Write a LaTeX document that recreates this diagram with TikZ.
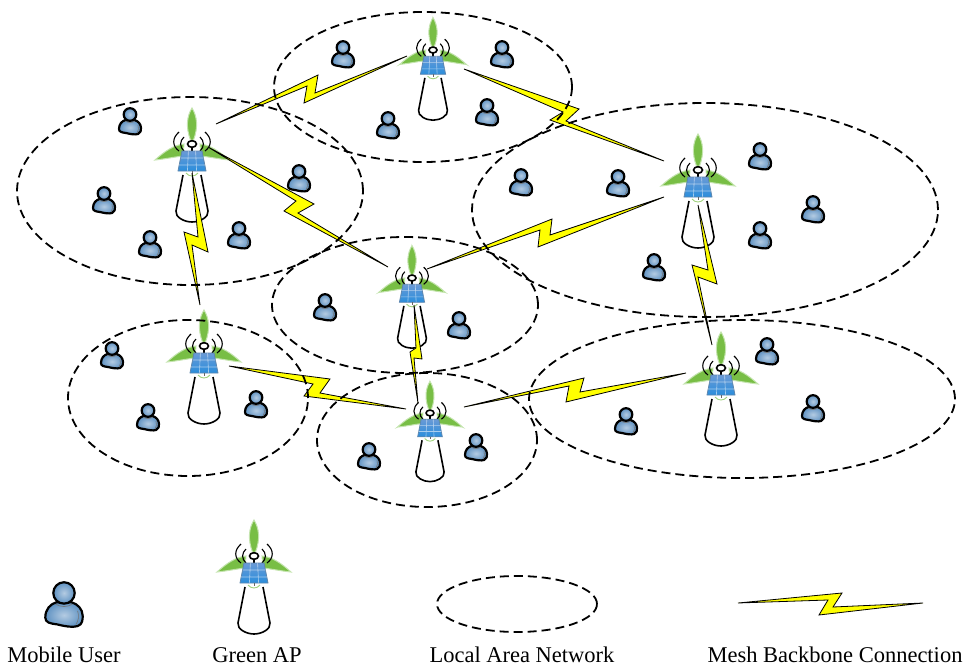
\documentclass[tikz,border=0pt]{standalone}
\usepackage{fontspec}
\setmainfont{Liberation Serif}
\usetikzlibrary{shapes.geometric}
\definecolor{bladegreen}{HTML}{78BE45}
\definecolor{bladeedge}{HTML}{C4E4AE}
\definecolor{panelrim}{HTML}{5E86AE}
\definecolor{paneltop}{HTML}{6A9AD6}
\definecolor{panelbot}{HTML}{2A8EDC}
\definecolor{userin}{HTML}{B4CBE2}
\definecolor{userout}{HTML}{5F92C2}
\definecolor{boltyellow}{HTML}{FFFF00}
\tikzset{
  lan/.style={ellipse,draw=black,dashed,dash pattern=on 9pt off 5pt,line width=1.8pt,inner sep=0pt},
  blade/.style={fill=bladegreen,draw=bladeedge,line width=1pt},
  wave/.style={draw=black,line width=1.1pt},
  boltpoly/.style={fill=boltyellow,draw=black,line width=.8pt,line join=miter},
  legendtext/.style={font=\fontsize{22.5}{24}\selectfont,inner sep=0pt},
  greenap/.pic={
    \path[blade] (0,-36) .. controls (5,-28) and (6.5,-17) .. (1.5,-4) -- (-1.5,-4) .. controls (-6.5,-17) and (-5,-28) .. cycle;
    \path[blade] (-37,16) .. controls (-27,7) and (-18,1) .. (-8,0) -- (-9,12) .. controls (-18,13) and (-27,15) .. cycle;
    \path[blade] (37,16) .. controls (27,7) and (18,1) .. (8,0) -- (9,12) .. controls (18,13) and (27,15) .. cycle;
    \draw[wave] (-8,-7) .. controls (-12.5,-3) and (-12.5,3) .. (-8,7);
    \draw[wave] (8,-7) .. controls (12.5,-3) and (12.5,3) .. (8,7);
    \draw[wave] (-13,-12) .. controls (-20,-6) and (-20,2) .. (-13,7);
    \draw[wave] (13,-12) .. controls (20,-6) and (20,2) .. (13,7);
    \draw[black,line width=1.3pt] (0,3) -- (0,8);
    \draw[black,line width=1.6pt,fill=white] (0,0) ellipse (4.5 and 3.3);
    \shadedraw[top color=paneltop,bottom color=panelbot,draw=panelrim,line width=.8pt] (-10,7) -- (10,7) -- (14,27) -- (-14,27) -- cycle;
    \draw[white,opacity=.55,line width=.6pt] (-3.6,7) -- (-4.6,27) (3.6,7) -- (4.6,27) (-11.5,14) -- (11.5,14) (-13,21) -- (13,21);
    \draw[black!60,line width=.8pt] (0,27) -- (0,30);
    \draw[bladegreen!70,line width=.9pt] (-6,29) .. controls (-3,33) and (3,33) .. (6,29);
    \draw[black,line width=1.6pt] (-9,31) -- (-16,67) .. controls (-17,73) and (-8,78) .. (0,78) .. controls (8,78) and (17,73) .. (16,67) -- (9,31);
  },
  mobileuser/.pic={
    \shadedraw[inner color=userin,outer color=userout,draw=black,line width=2.2pt,line join=round]
      (-4.5,-1) .. controls (-8,0) and (-11,3) .. (-11,8) .. controls (-11,11) and (-8,11.5) .. (-4,12)
      .. controls (0,13) and (5,14) .. (8,13) .. controls (11,12) and (11,9) .. (11,7)
      .. controls (11,3) and (8,0) .. (4.5,-1) -- cycle;
    \draw[black!55,line width=.6pt] (-5,0) .. controls (-2,2) and (2,2) .. (5,0);
    \draw[black!55,line width=.6pt] (8,4) .. controls (9,7) and (8.5,10) .. (7,12);
    \shadedraw[inner color=userin,outer color=userout,draw=black,line width=2.2pt] (0,-6.5) circle (6.3);
  }
}
\newcommand{\boltlink}[6]{\draw[boltpoly] (#1) -- #2 -- #3 -- (#4) -- #5 -- #6 -- cycle;}
\begin{document}
\begin{tikzpicture}[x=1pt,y=-1pt]
\useasboundingbox (0,0) rectangle (967,669);
% access points
\pic[scale=.9] (apT) at (433,50) {greenap};
\pic (apL) at (192,144) {greenap};
\pic (apR) at (698,170) {greenap};
\pic[scale=.9] (apC) at (412,278) {greenap};
\pic (apLL) at (204,346) {greenap};
\pic[scale=.88] (apLM) at (430,413) {greenap};
\pic (apLR) at (721,368) {greenap};
\pic (apKey) at (254,556) {greenap};
% users
\foreach \ux/\uy [count=\ui] in {343/54,502/54,388/125,487/112,130/121,299/178,104/200,150/244,239/235,760/156,521/182,618/183,813/209,760/235,654/267,325/307,459/325,112/355,256/404,148/417,369/456,476/447,767/351,813/408,626/421}
  \pic (user\ui) at (\ux,\uy) {mobileuser};
\pic[scale=1.7] (userKey) at (64,604) {mobileuser};
% connector ends
\coordinate (e1a) at (216,124); \coordinate (e1b) at (407,56);
\coordinate (e2a) at (464,69);  \coordinate (e2b) at (664,161);
\coordinate (e3a) at (208,147); \coordinate (e3b) at (388,267);
\coordinate (e4a) at (192,173); \coordinate (e4b) at (200,305);
\coordinate (e5a) at (427,269); \coordinate (e5b) at (664,197);
\coordinate (e6a) at (698,205); \coordinate (e6b) at (712,345);
\coordinate (e7a) at (414,305); \coordinate (e7b) at (418,403);
\coordinate (e8a) at (229,366); \coordinate (e8b) at (406,409);
\coordinate (e9a) at (464,407); \coordinate (e9b) at (686,373);
\coordinate (keya) at (738,603); \coordinate (keyb) at (923,603);
% backbone links
\boltlink{e1a}{(318,75)}{(315,93)}{e1b}{(304,103)}{(307,86)}
\boltlink{e2a}{(579,109)}{(566,121)}{e2b}{(550,120)}{(563,112)}
\boltlink{e3a}{(314,204)}{(298,213)}{e3b}{(284,211)}{(296,201)}
\boltlink{e4a}{(208,252)}{(192,245)}{e4b}{(184,232)}{(198,237)}
\boltlink{e5a}{(552,219)}{(550,235)}{e5b}{(538,247)}{(540,230)}
\boltlink{e6a}{(717,284)}{(698,277)}{e6b}{(692,265)}{(708,270)}
\boltlink{e7a}{(422,359)}{(414,358)}{e7b}{(410,352)}{(416,348)}
\boltlink{e8a}{(330,379)}{(320,393)}{e8b}{(304,396)}{(313,384)}
\boltlink{e9a}{(584,378)}{(580,392)}{e9b}{(566,402)}{(569,386)}
\boltlink{keya}{(842,593)}{(833,607)}{keyb}{(819,615)}{(828,600)}
% local area networks
\node[lan,minimum width=298pt,minimum height=150pt] (lanT) at (423,87) {};
\node[lan,minimum width=346pt,minimum height=188pt] (lanL) at (190,191) {};
\node[lan,minimum width=466pt,minimum height=214pt] (lanR) at (705,210) {};
\node[lan,minimum width=266pt,minimum height=136pt] (lanC) at (405,305) {};
\node[lan,minimum width=240pt,minimum height=156pt] (lanLL) at (188,398) {};
\node[lan,minimum width=220pt,minimum height=134pt] (lanLM) at (427,440) {};
\node[lan,minimum width=426pt,minimum height=158pt] (lanLR) at (742,399) {};
\node[lan,minimum width=160pt,minimum height=56pt] (lanKey) at (517,604) {};
% legend text
\node[legendtext,anchor=base] (t1) at (64,662) {Mobile User};
\node[legendtext,anchor=base] (t2) at (257,662) {Green AP};
\node[legendtext,anchor=base] (t3) at (522,662) {Local Area Network};
\node[legendtext,anchor=base] (t4) at (835,662) {Mesh Backbone Connection};
\end{tikzpicture}
\end{document}
